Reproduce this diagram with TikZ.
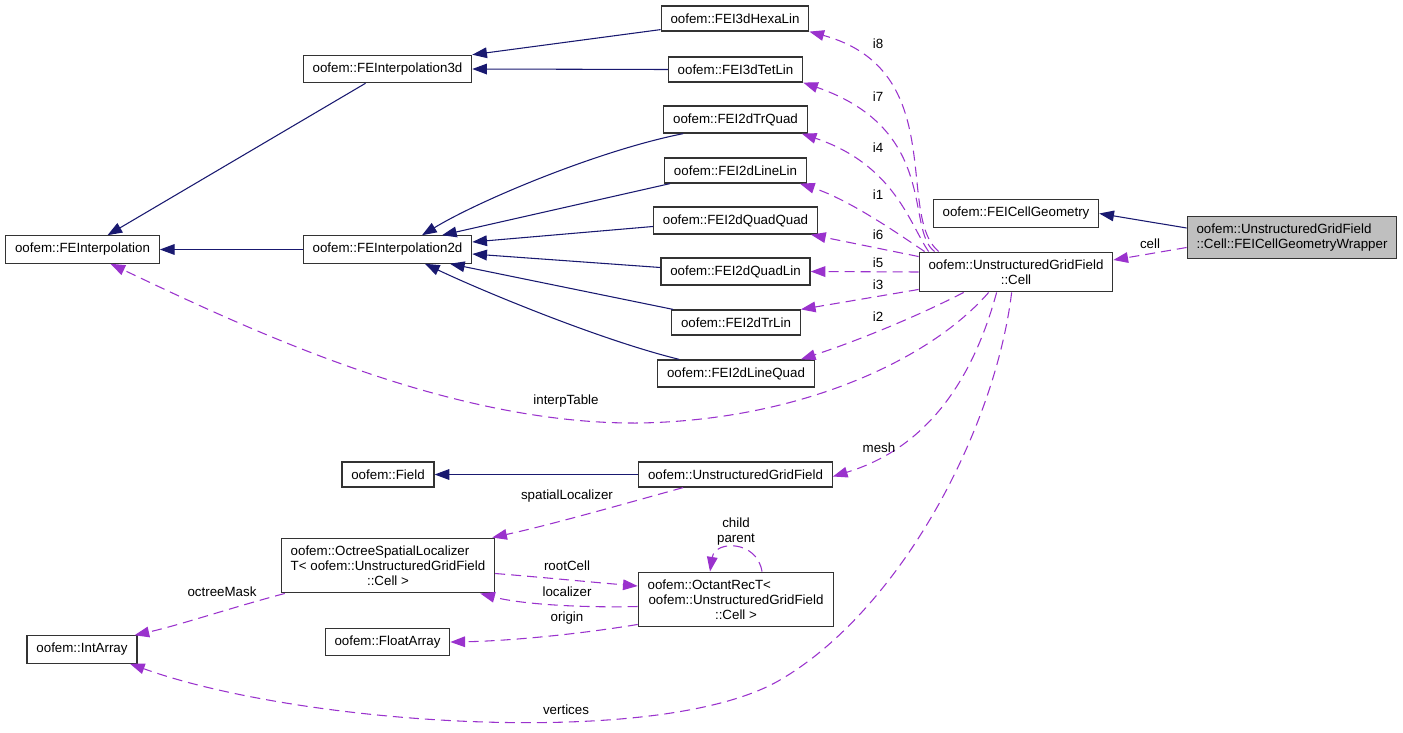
\documentclass[tikz,border=0pt]{standalone}
\usepackage{fontspec}
\setmainfont{Liberation Sans}
\usepackage{tikz}
\usetikzlibrary{positioning,calc}
\usetikzlibrary{arrows.meta}
\definecolor{midnight}{HTML}{191970}
\definecolor{orchid}{HTML}{9A32CD}
\colorlet{boxgray}{gray!50}

\begin{document}
\begin{tikzpicture}[x=0.75pt, y=-0.75pt, >={Triangle[length=11pt, width=8pt]}, font=\fontsize{10}{11.25}\selectfont, klass/.style={rectangle, draw=black!80, line width=0.9pt, align=center, inner xsep=7pt, inner ysep=5.6pt, minimum height=18.75pt}, inherit/.style={->, midnight, line width=0.8pt}, member/.style={->, orchid, line width=0.8pt, dash pattern=on 7.5pt off 4.5pt}, lbl/.style={inner sep=0pt}]
				\useasboundingbox (0,0) rectangle (1403,732);

				% Nodes

				\node [klass] (hexa) at (735,18.5) {oofem::FEI3dHexaLin};
				\node [klass] (tet) at (735.5,69.5) {oofem::FEI3dTetLin};
				\node [klass] (trquad) at (735.5,119.5) {oofem::FEI2dTrQuad};
				\node [klass] (linelin) at (735.5,170.5) {oofem::FEI2dLineLin};
				\node [klass] (quadquad) at (735.5,220.5) {oofem::FEI2dQuadQuad};
				\node [klass] (quadlin) at (735.5,271.5) {oofem::FEI2dQuadLin};
				\node [klass] (trlin) at (736,322.5) {oofem::FEI2dTrLin};
				\node [klass] (linequad) at (736,373.5) {oofem::FEI2dLineQuad};
				\node [klass] (interp3d) at (387.5,69) {oofem::FEInterpolation3d};
				\node [klass] (interp2d) at (387.5,249.5) {oofem::FEInterpolation2d};
				\node [klass] (interp) at (82.5,249.5) {oofem::FEInterpolation};
				\node [klass] (cellgeom) at (1016,213.5) {oofem::FEICellGeometry};
				\node [klass] (cell) at (1016,272) {oofem::UnstructuredGridField\\::Cell};
				\node [klass, fill=boxgray, align=left] (wrapper) at (1292,237.5) {oofem::UnstructuredGridField\\::Cell::FEICellGeometryWrapper};
				\node [klass] (field) at (388,474.5) {oofem::Field};
				\node [klass] (ugf) at (735.5,474.5) {oofem::UnstructuredGridField};
				\node [klass] (octree) at (388,565.5) {oofem::OctreeSpatialLocalizer\hspace*{12pt}\\T< oofem::UnstructuredGridField\\::Cell >};
				\node [klass] (octant) at (736,599.5) {oofem::OctantRecT<\hspace*{40pt}\\oofem::UnstructuredGridField\\::Cell >};
				\node [klass] (floatarray) at (387.5,642) {oofem::FloatArray};
				\node [klass] (intarray) at (82,649.5) {oofem::IntArray};

				% Arrows

				\draw[inherit] ($(hexa.south west)+(0,-2)$) -- (interp3d.north east);
				\draw[inherit] (tet.west) -- (interp3d.east);
				\draw[inherit] ($(interp3d.south)+(-22,0)$) -- ($(interp.north)+(25,0)$);
				\draw[inherit] (interp2d.west) -- (interp.east);
				\draw[inherit] ($(trquad.south west)+(20,0)$) .. controls (600,150) and (480,200) .. ($(interp2d.north)+(34.5,0)$);
				\draw[inherit] ($(linelin.south west)+(6,0)$) -- ($(interp2d.north)+(54.5,0)$);
				\draw[inherit] ($(quadquad.west)+(0,6)$) -- ($(interp2d.east)+(0,-7.5)$);
				\draw[inherit] ($(quadlin.west)+(0,-4)$) -- ($(interp2d.east)+(0,4.5)$);
				\draw[inherit] ($(trlin.north west)+(2,0)$) -- ($(interp2d.south)+(62.5,0)$);
				\draw[inherit] ($(linequad.north west)+(22,0)$) .. controls (600,340) and (480,290) .. ($(interp2d.south)+(37.5,0)$);
				\draw[inherit] (ugf.west) -- (field.east);
				\draw[inherit] ($(wrapper.west)+(0,-9.5)$) -- (cellgeom.east);

				\draw[member] ($(cell.north west)+(20,0)$) .. controls (895,215) and (950,70) .. (hexa.south east);
				\draw[member] ($(cell.north west)+(16,0)$) .. controls (905,230) and (940,130) .. (tet.south east);
				\draw[member] ($(cell.north west)+(10,0)$) .. controls (910,225) and (895,165) .. ($(trquad.south east)+(-6,0)$);
				\draw[member] ($(cell.north west)+(6,0)$) .. controls (900,235) and (850,200) .. ($(linelin.south east)+(-7,0)$);
				\draw[member] ($(cell.north west)+(0,5)$) -- ($(quadquad.south east)+(-7,0)$);
				\draw[member] (cell.west) -- (quadlin.east);
				\draw[member] ($(cell.south west)+(0,-3)$) -- (trlin.north east);
				\draw[member] ($(cell.south west)+(45,0)$) .. controls (920,315) and (860,340) .. ($(linequad.north east)+(-14,0)$);
				\draw[member] ($(cell.south west)+(70,0)$) .. controls (930,360) and (800,420) .. (640,423) .. controls (450,425) and (250,330) .. ($(interp.south)+(28,0)$);
				\draw[member] ($(cell.south west)+(78,0)$) .. controls (970,390) and (920,450) .. ($(ugf.east)+(0,2)$);
				\draw[member] ($(cell.south west)+(93,0)$) .. controls (995,430) and (900,610) .. (780,680) .. controls (660,750) and (300,725) .. ($(intarray.south)+(48,0)$);
				\draw[member] ($(wrapper.west)+(0,10)$) -- ($(cell.east)+(0,-12)$);
				\draw[member] ($(ugf.south west)+(45,0)$) .. controls (620,505) and (550,525) .. ($(octree.north east)+(-3,0)$);
				\draw[member] ($(octree.east)+(0,8)$) .. controls (550,578) and (590,582) .. ($(octant.west)+(0,-13.5)$);
				\draw[member] ($(octant.west)+(0,7)$) .. controls (580,608) and (520,604) .. ($(octree.south east)+(-15,0)$);
				\draw[member] ($(octant.south west)+(0,-3)$) .. controls (580,634) and (510,641) .. (floatarray.east);
				\draw[member] ($(octant.north)+(26,0)$) .. controls (757,540) and (715,540) .. ($(octant.north)+(-26,0)$);
				\draw[member] ($(octree.south west)+(4,0)$) .. controls (230,608) and (180,625) .. ($(intarray.north east)+(-3,0)$);

				% Labels

				\node[lbl] (li8) at (878,44) {i8};
				\node[lbl] (li7) at (878,97) {i7};
				\node[lbl] (li4) at (878,148) {i4};
				\node[lbl] (li1) at (878,195) {i1};
				\node[lbl] (li6) at (878,235) {i6};
				\node[lbl] (li5) at (878,263) {i5};
				\node[lbl] (li3) at (878,285) {i3};
				\node[lbl] (li2) at (878,317) {i2};
				\node[lbl] (lcell) at (1150,244) {cell};
				\node[lbl] (linterp) at (566,401) {interpTable};
				\node[lbl] (lmesh) at (879,448) {mesh};
				\node[lbl] (lspatial) at (567,496) {spatialLocalizer};
				\node[lbl, align=center] (lloop) at (736,532) {child\\parent};
				\node[lbl] (lroot) at (567,566) {rootCell};
				\node[lbl] (llocal) at (567,592) {localizer};
				\node[lbl] (lorigin) at (567,618) {origin};
				\node[lbl] (lmask) at (222,592) {octreeMask};
				\node[lbl] (lvert) at (566,710) {vertices};
			\end{tikzpicture}
\end{document}
